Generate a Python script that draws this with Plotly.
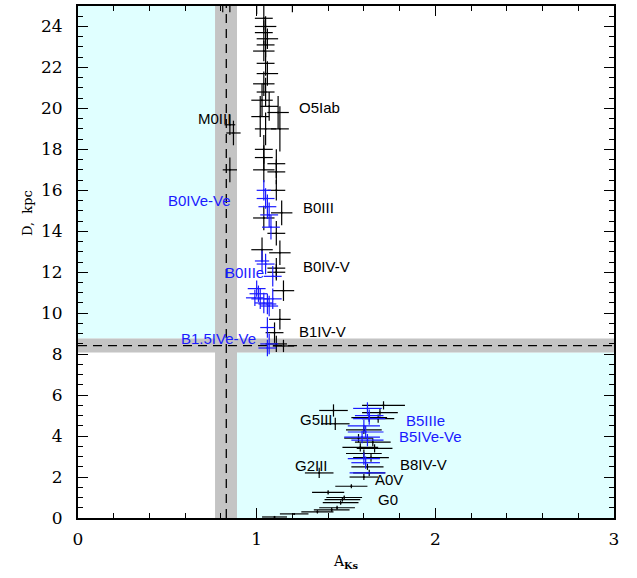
import plotly.graph_objects as go

# Extinction A_Ks vs distance D (kpc) for stars of several spectral classes.
# Each entry: (A_Ks, D, err_A, err_D)
black_A = [0.81, 0.85, 1.00, 1.20,
           1.04, 1.05, 1.04, 1.06, 1.05, 1.04, 1.05, 1.06, 1.04, 1.05, 1.03, 1.07,
           1.12, 1.02, 1.05, 1.13, 1.04, 1.04, 1.11, 1.04, 1.11,
           0.85, 0.87, 0.85,
           1.11, 1.14, 1.04, 1.11, 1.03, 1.13, 1.11, 1.11, 1.15, 1.13, 1.10, 1.11, 1.15,
           1.71, 1.43, 1.44, 1.69, 1.68, 1.63, 1.60, 1.65, 1.57, 1.58, 1.66, 1.60, 1.64,
           1.62, 1.63, 1.60, 1.35, 1.53, 1.40, 1.49, 1.48, 1.47, 1.45, 1.42, 1.34, 1.21, 1.10]
black_D = [25.7, 25.6, 25.4, 25.5,
           24.4, 24.0, 23.7, 23.4, 23.1, 22.8, 22.2, 21.7, 21.2, 20.8, 20.4, 20.1,
           19.8, 19.6, 19.0, 19.0, 18.0, 17.6, 17.3, 17.0, 16.9,
           19.2, 18.8, 17.0,
           16.0, 14.9, 14.65, 13.9, 13.1, 12.95, 12.2, 12.0, 11.1, 9.7, 9.05, 8.5, 8.4,
           5.5, 5.25, 4.6, 5.15, 4.85, 4.9, 4.3, 3.7, 3.9, 3.45, 3.4, 3.15, 2.95,
           2.5, 2.2, 2.0, 2.2, 1.55, 1.25, 1.0, 0.9, 0.75, 0.5, 0.4, 0.3, 0.2, 0.05]
black_eA = [0.03, 0.03, 0.04, 0.03,
            0.05, 0.06, 0.05, 0.06, 0.05, 0.06, 0.05, 0.06, 0.06, 0.05, 0.06, 0.05,
            0.06, 0.05, 0.06, 0.05, 0.05, 0.05, 0.05, 0.06, 0.05,
            0.03, 0.04, 0.04,
            0.05, 0.06, 0.06, 0.05, 0.06, 0.06, 0.05, 0.05, 0.06, 0.06, 0.05, 0.06, 0.06,
            0.12, 0.08, 0.08, 0.10, 0.09, 0.10, 0.10, 0.10, 0.08, 0.10, 0.10, 0.10, 0.10,
            0.09, 0.09, 0.08, 0.08, 0.09, 0.09, 0.10, 0.10, 0.10, 0.10, 0.10, 0.09, 0.08, 0.07]
black_eD = [1.0, 0.9, 0.8, 0.8,
            0.6, 0.5, 0.6, 0.5, 0.6, 0.5, 0.6, 0.6, 0.6, 0.7, 0.8, 0.7,
            0.8, 1.0, 0.8, 1.1, 0.7, 0.6, 0.7, 0.6, 0.6,
            0.5, 0.6, 0.6,
            0.5, 0.6, 0.6, 0.6, 0.6, 0.6, 0.5, 0.4, 0.5, 0.5, 0.5, 0.4, 0.3,
            0.2, 0.3, 0.3, 0.2, 0.2, 0.2, 0.2, 0.2, 0.2, 0.2, 0.2, 0.2, 0.2,
            0.15, 0.15, 0.15, 0.25, 0.1, 0.1, 0.1, 0.1, 0.1, 0.1, 0.1, 0.08, 0.05, 0.05]

# Emission-line (Be) stars
blue_A = [1.04, 1.05, 1.06, 1.07, 1.08, 1.03, 1.05, 1.09, 1.00, 1.01, 0.99, 1.02,
          1.04, 1.06, 1.07, 1.09, 1.06, 1.07, 1.06,
          1.62, 1.63, 1.63, 1.60, 1.61, 1.59, 1.62, 1.60, 1.61, 1.62]
blue_D = [16.0, 15.6, 15.2, 14.8, 14.2, 12.55, 12.4, 11.8, 11.2, 10.95, 10.75, 10.7,
          10.5, 10.45, 10.35, 10.7, 9.3, 8.5, 8.3,
          5.35, 5.0, 4.85, 4.5, 4.2, 3.95, 3.8, 2.9, 2.7, 2.2]
blue_eA = [0.04, 0.05, 0.05, 0.05, 0.05, 0.04, 0.05, 0.05, 0.05, 0.05, 0.05, 0.05,
           0.05, 0.05, 0.05, 0.05, 0.04, 0.05, 0.05,
           0.08, 0.08, 0.09, 0.09, 0.10, 0.10, 0.09, 0.09, 0.08, 0.10]
blue_eD = [0.5, 0.5, 0.6, 0.6, 0.6, 0.5, 0.5, 0.5, 0.4, 0.4, 0.4, 0.5,
           0.5, 0.5, 0.5, 0.5, 0.5, 0.5, 0.4,
           0.3, 0.3, 0.3, 0.3, 0.3, 0.3, 0.3, 0.3, 0.3, 0.05]

# Spectral-class labels: (text, A_Ks, D, anchor)
black_labels = [("O5Iab", 1.225, 20.05, "left"), ("M0III", 0.865, 19.5, "right"),
                ("B0III", 1.25, 15.15, "left"), ("B0IV-V", 1.25, 12.27, "left"),
                ("B1IV-V", 1.225, 9.1, "left"), ("G5III", 1.23, 4.8, "left"),
                ("G2III", 1.205, 2.58, "left"), ("B8IV-V", 1.79, 2.63, "left"),
                ("A0V", 1.65, 1.9, "left"), ("G0", 1.67, 0.88, "left")]
blue_labels = [("B0IVe-Ve", 0.865, 15.5, "right"), ("B0IIIe", 0.81, 12.0, "left"),
               ("B1.5IVe-Ve", 0.565, 8.76, "left"), ("B5IIIe", 1.825, 4.78, "left"),
               ("B5IVe-Ve", 1.785, 3.97, "left")]

# Reference values: A_Ks band and Galactic-centre distance band
A_ref, A_lo, A_hi = 0.83, 0.767, 0.89
D_ref, D_lo, D_hi = 8.42, 8.08, 8.76
x_range = [0, 3]
y_range = [0, 25]

CYAN = "#e0ffff"
GREY = "#c4c4c4"
BLUE = "#1a1aff"
LABEL_SIZE = 15

fig = go.Figure()

shapes = [
    dict(type="rect", xref="x", yref="y", x0=x_range[0], x1=A_lo, y0=D_hi, y1=y_range[1],
         fillcolor=CYAN, line_width=0, layer="below"),
    dict(type="rect", xref="x", yref="y", x0=A_hi, x1=x_range[1], y0=y_range[0], y1=D_lo,
         fillcolor=CYAN, line_width=0, layer="below"),
    dict(type="rect", xref="x", yref="y", x0=A_lo, x1=A_hi, y0=y_range[0], y1=y_range[1],
         fillcolor=GREY, line_width=0, layer="below"),
    dict(type="rect", xref="x", yref="y", x0=x_range[0], x1=x_range[1], y0=D_lo, y1=D_hi,
         fillcolor=GREY, line_width=0, layer="below"),
    dict(type="line", xref="x", yref="y", x0=A_ref, x1=A_ref, y0=y_range[0], y1=y_range[1],
         line=dict(color="black", width=1.3, dash="9px,6px"), layer="below"),
    dict(type="line", xref="x", yref="y", x0=x_range[0], x1=x_range[1], y0=D_ref, y1=D_ref,
         line=dict(color="black", width=1.3, dash="9px,6px"), layer="below"),
]


def cross_trace(xs, ys, exs, eys, color):
    return go.Scatter(
        x=xs, y=ys, mode="markers",
        marker=dict(size=2, color=color),
        error_x=dict(type="data", array=exs, visible=True, color=color, thickness=1.2, width=0),
        error_y=dict(type="data", array=eys, visible=True, color=color, thickness=1.2, width=0),
        showlegend=False, hoverinfo="skip",
    )


fig.add_trace(cross_trace(black_A, black_D, black_eA, black_eD, "black"))
fig.add_trace(cross_trace(blue_A, blue_D, blue_eA, blue_eD, BLUE))

annotations = []
for txt, ax_, ay_, anc in black_labels:
    annotations.append(dict(x=ax_, y=ay_, xref="x", yref="y", text=txt, showarrow=False,
                            xanchor=anc, yanchor="middle",
                            font=dict(family="Liberation Sans", size=LABEL_SIZE, color="black")))
for txt, ax_, ay_, anc in blue_labels:
    annotations.append(dict(x=ax_, y=ay_, xref="x", yref="y", text=txt, showarrow=False,
                            xanchor=anc, yanchor="middle",
                            font=dict(family="Liberation Sans", size=LABEL_SIZE, color=BLUE)))
annotations.append(dict(x=-0.093, y=14.9, xref="paper", yref="y", text="D,  kpc",
                        showarrow=False, textangle=-90, xanchor="center", yanchor="middle",
                        font=dict(family="DejaVu Serif", size=13, color="black")))

axis_common = dict(showgrid=False, zeroline=False, showline=True, linecolor="black",
                   linewidth=2, mirror="allticks", ticks="inside", tickcolor="black",
                   tickwidth=1, ticklen=10,
                   tickfont=dict(family="DejaVu Serif", size=17, color="black"))

fig.update_layout(
    width=637, height=578,
    margin=dict(l=78, r=23, t=4, b=60),
    paper_bgcolor="white", plot_bgcolor="white",
    shapes=shapes, annotations=annotations,
    xaxis=dict(range=x_range, dtick=1, tick0=0,
               minor=dict(dtick=0.2, ticks="inside", ticklen=5, tickcolor="black"),
               title=dict(text="A<sub><b>Ks</b></sub>", standoff=8,
                          font=dict(family="DejaVu Serif", size=14, color="black")),
               ticklabelstandoff=5, **axis_common),
    yaxis=dict(range=y_range, dtick=2, tick0=0,
               minor=dict(dtick=0.5, ticks="inside", ticklen=5, tickcolor="black"),
               ticklabelstandoff=10, **axis_common),
)

fig.write_html("out.html")
